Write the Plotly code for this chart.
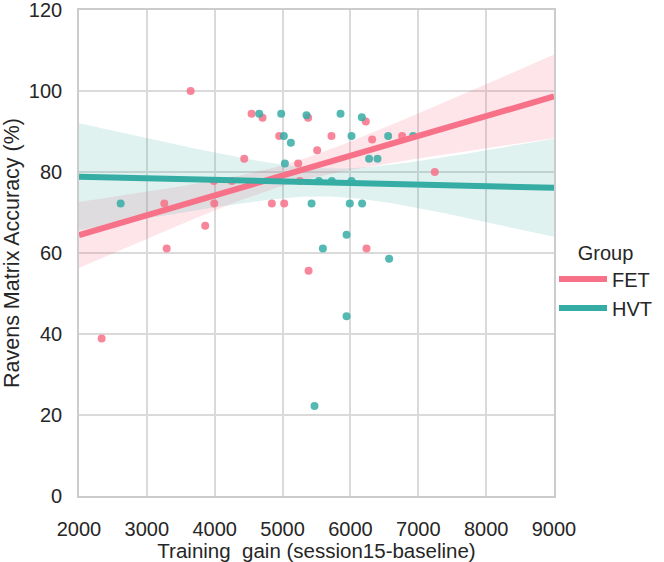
import numpy as np
import plotly.graph_objects as go

# ---- data ----
fet_gain = [3645, 4543, 4705, 5377, 6227, 4950, 5721, 6320, 6762, 5510, 4435, 5230, 7243,
            3988, 4253, 5255, 3257, 3993, 4842, 5024, 3860, 3292, 6237, 5383, 2334]
fet_acc = [100.0, 94.4, 93.4, 93.4, 92.5, 88.9, 88.9, 88.0, 88.9, 85.4, 83.3, 82.1, 80.0,
           77.8, 77.8, 77.8, 72.2, 72.2, 72.2, 72.2, 66.7, 61.1, 61.1, 55.6, 38.9]
hvt_gain = [4656, 4980, 5353, 5854, 6168, 5019, 5122, 6016, 6556, 6924, 5034, 6275, 6399,
            5535, 5726, 6016, 2614, 5427, 5991, 6172, 5943, 5594, 6570, 5943, 5471]
hvt_acc = [94.4, 94.4, 94.0, 94.4, 93.5, 88.9, 87.2, 88.9, 88.9, 88.9, 82.1, 83.3, 83.3,
           77.8, 77.8, 77.8, 72.2, 72.2, 72.2, 72.2, 64.5, 61.1, 58.6, 44.4, 22.2]
groups = ["FET", "HVT"]
colors = {"FET": "#f77189", "HVT": "#36ada4"}
band_colors = {"FET": "rgba(247,113,137,0.18)", "HVT": "rgba(54,173,164,0.16)"}
x_ticks = [2000, 3000, 4000, 5000, 6000, 7000, 8000, 9000]
y_ticks = [0, 20, 40, 60, 80, 100, 120]

data = {"FET": (fet_gain, fet_acc), "HVT": (hvt_gain, hvt_acc)}

fig = go.Figure()
grid = np.linspace(x_ticks[0], x_ticks[-1], 120)
Z = 1.0  # ~68% interval

fits = {}
for g in groups:
    x = np.array(data[g][0], float)
    y = np.array(data[g][1], float)
    n = len(x)
    X = np.column_stack([np.ones_like(x), x])
    beta = np.linalg.lstsq(X, y, rcond=None)[0]
    resid = y - X @ beta
    xtx_inv = np.linalg.inv(X.T @ X)
    cov_ols = xtx_inv * np.sum(resid ** 2) / (n - 2)
    meat = X.T @ (X * (resid ** 2)[:, None])
    cov_rob = xtx_inv @ meat @ xtx_inv
    cov = 0.5 * (cov_ols + cov_rob)
    G = np.column_stack([np.ones_like(grid), grid])
    yhat = G @ beta
    se = np.sqrt(np.einsum("ij,jk,ik->i", G, cov, G))
    lo, hi = yhat - Z * se, yhat + Z * se
    fits[g] = yhat
    fig.add_trace(go.Scatter(x=np.concatenate([grid, grid[::-1]]),
                             y=np.concatenate([hi, lo[::-1]]),
                             fill="toself", fillcolor=band_colors[g],
                             line=dict(width=0), hoverinfo="skip", showlegend=False))

for g in groups:
    fig.add_trace(go.Scatter(x=data[g][0], y=data[g][1], mode="markers",
                             marker=dict(color=colors[g], size=8, opacity=0.85),
                             showlegend=False))

for g in groups:
    fig.add_trace(go.Scatter(x=grid, y=fits[g], mode="lines",
                             line=dict(color=colors[g], width=6),
                             name=g, legendgroup=g, showlegend=True))

font = "Liberation Sans, Arial, sans-serif"
fig.update_layout(
    width=664, height=562,
    margin=dict(l=79, r=110, t=10, b=66, autoexpand=False),
    paper_bgcolor="white", plot_bgcolor="white",
    font=dict(family=font, size=20, color="#262626"),
    legend=dict(title=dict(text="Group", font=dict(size=20), side="top center"),
                x=1.0, xanchor="left", y=0.54, yanchor="top",
                bgcolor="rgba(0,0,0,0)",
                font=dict(size=20), tracegroupgap=0, itemwidth=48),
    xaxis=dict(range=[x_ticks[0], x_ticks[-1]], tickvals=x_ticks,
               showgrid=True, gridcolor="#dadada", gridwidth=1.6,
               showline=True, linecolor="#cccccc", linewidth=1.6, mirror=True,
               zeroline=False, ticks="", ticklabelstandoff=14, automargin=False,
               tickfont=dict(size=20, color="#262626"),
               title=dict(text="Training\u00a0 gain (session15-baseline)",
                          font=dict(size=20.5), standoff=6)),
    yaxis=dict(range=[y_ticks[0], y_ticks[-1]], tickvals=y_ticks,
               showgrid=True, gridcolor="#dadada", gridwidth=1.6,
               showline=True, linecolor="#cccccc", linewidth=1.6, mirror=True,
               zeroline=False, ticks="", ticklabelstandoff=11, automargin=False,
               ticklabeloverflow="allow",
               tickfont=dict(size=20, color="#262626"),
               title=dict(text="Ravens Matrix Accuracy (%)", font=dict(size=21.5), standoff=8)),
)
fig.write_html("out.html", config={"displayModeBar": False},
               post_script="document.body.style.margin='0';document.body.style.overflow='hidden';")
